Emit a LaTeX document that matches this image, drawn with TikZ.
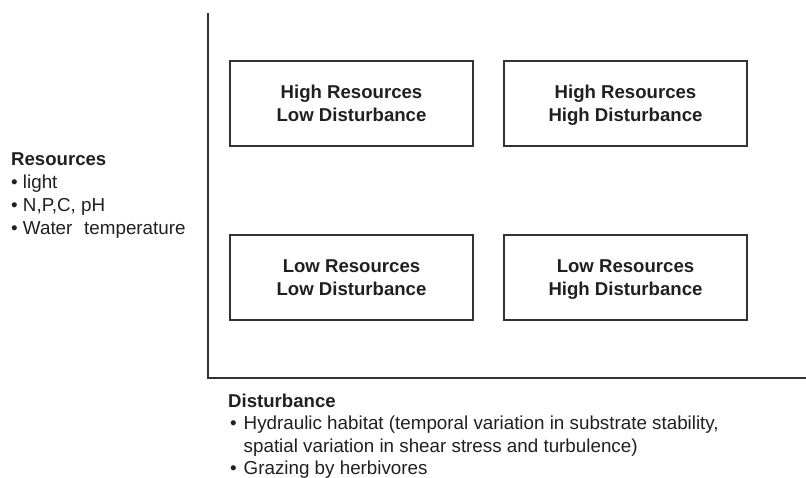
\documentclass[tikz,border=0pt]{standalone}
\usepackage{fontspec}
\setmainfont{Liberation Sans}
\definecolor{ink}{HTML}{231F20}
\definecolor{edge}{HTML}{333333}
\newcommand{\nodp}[1]{\raisebox{0pt}[\height][0pt]{#1}}
\newcommand{\dbul}{\makebox[13.5pt][l]{•}}
\begin{document}
\begin{tikzpicture}[x=1pt,y=-1pt,
  quad/.style={draw=edge,line width=1.6pt,minimum width=243pt,minimum height=85pt,
    align=center,inner sep=0pt,text=ink,font=\fontsize{18.6}{23}\selectfont\bfseries},
  txt/.style={anchor=base west,inner sep=0pt,text=ink,font=\fontsize{18.8}{23}\selectfont},
  head/.style={txt,font=\fontsize{18.6}{23}\selectfont\bfseries},
  axis/.style={draw=edge,line width=1.8pt}]
\useasboundingbox (0,0) rectangle (806,477);
\fill[white] (0,0) rectangle (806,477);
% axes
\coordinate (top) at (208,13);
\coordinate (origin) at (208,378);
\coordinate (right) at (806,378);
\draw[axis] (top) -- (origin) -- (right);
% boxes
\node[quad] (hl) at (351.5,103.5) {High Resources\\\nodp{Low Disturbance}};
\node[quad] (hh) at (625.5,103.5) {High Resources\\\nodp{High Disturbance}};
\node[quad] (ll) at (351.5,277.5) {Low Resources\\\nodp{Low Disturbance}};
\node[quad] (lh) at (625.5,277.5) {Low Resources\\\nodp{High Disturbance}};
% resources text
\node[head] (rtitle) at (11,165) {Resources};
\node[txt] (r1) at (11,188) {• light};
\node[txt] (r2) at (11,211) {• N,P,C, pH};
\node[txt] (r3) at (11,234) {• Water\hspace{0.35em} temperature};
% disturbance text
\node[head] (dtitle) at (228,407) {Disturbance};
\node[txt] (d1) at (230,429) {\dbul Hydraulic habitat (temporal variation in substrate stability,};
\node[txt] (d2) at (230,452) {\hspace{13.5pt}spatial variation in shear stress and turbulence)};
\node[txt] (d3) at (230,474) {\dbul Grazing by herbivores};
\end{tikzpicture}
\end{document}
